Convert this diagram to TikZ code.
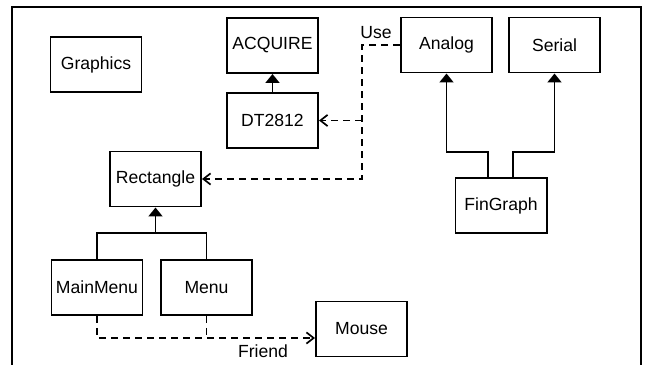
\documentclass[tikz,border=0pt]{standalone}
\usepackage{fontspec}
\setmainfont{Liberation Sans}
\usetikzlibrary{arrows.meta}

\begin{document}
\begin{tikzpicture}[x=0.025cm, y=-0.025cm,
	cls/.style={rectangle, draw, line width=1.4pt, minimum width=2.275cm, minimum height=1.375cm, inner sep=0pt, font=\fontsize{12.5}{14}\selectfont},
	inh/.style={line width=1.4pt, -{Triangle[width=0.34cm,length=0.22cm]}},
	use/.style={line width=1.3pt, dash pattern=on 0.17cm off 0.13cm},
	usearrow/.style={use, -{Straight Barb[width=0.28cm,length=0.18cm,line width=1.2pt]}},
	lbl/.style={inner sep=0pt, font=\fontsize{12.5}{14}\selectfont}]
	\useasboundingbox (0,0) rectangle (648,365);
	\draw [line width=1.6pt] (12,365) |- (641,7) -- (641,365);

	\node at (96,64.5) [cls] (graphics) {Graphics};
	\node at (272.5,45.5) [cls] (acquire) {ACQUIRE};
	\node at (272.5,120.5) [cls] (dt) {DT2812};
	\node at (155.5,179) [cls] (rect) {Rectangle};
	\node at (446.5,45) [cls] (analog) {Analog};
	\node at (554.5,45) [cls] (serial) {Serial};
	\node at (501,205.5) [cls] (fingraph) {FinGraph};
	\node at (97,287.5) [cls] (mainmenu) {MainMenu};
	\node at (206.5,287.5) [cls] (menu) {Menu};
	\node at (361.5,329) [cls] (mouse) {Mouse};

	\coordinate (rjoin) at (155.5,233);
	\coordinate (fgl) at (488,152);
	\coordinate (fgr) at (513,152);
	\coordinate (usebot) at (362,179);
	\coordinate (frend) at ([yshift=-0.225cm]mouse.west);

	\draw [inh] (dt) -- (acquire);
	\draw [inh] (fingraph.north -| fgl) -- (fgl) -| (analog.south);
	\draw [inh] (fingraph.north -| fgr) -- (fgr) -| (serial.south);
	\draw [inh] (mainmenu.north) |- (rjoin) -- (rect.south);
	\draw [line width=1.4pt] (menu.north) |- (rjoin);

	\draw [usearrow] (analog.west) -| (usebot) -- (rect.east);
	\draw [usearrow] (dt.east -| usebot) -- (dt.east);
	\node at (376,33) [lbl] (uselbl) {Use};

	\draw [usearrow] (mainmenu.south) |- (frend);
	\draw [use] (menu.south) -- (menu.south |- frend);
	\node at (263,351) [lbl] (friendlbl) {Friend};
\end{tikzpicture}
\end{document}
